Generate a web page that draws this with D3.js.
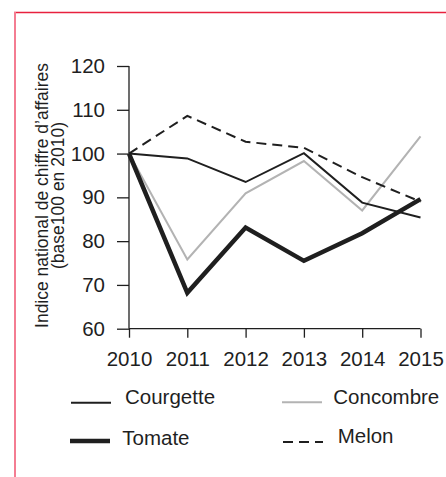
<!DOCTYPE html>
<html><head><meta charset="utf-8">
<script src="https://cdn.jsdelivr.net/npm/d3@7"></script>
<style>html,body{margin:0;padding:0;background:#fff;}svg{display:block;font-family:"Liberation Sans",Arial,sans-serif;}</style>
</head><body>
<script>
const years = [2010, 2011, 2012, 2013, 2014, 2015];
const yTicks = [60, 70, 80, 90, 100, 110, 120];
const courgette = [100, 98.9, 93.5, 100.1, 88.8, 85.4];
const concombre = [100, 75.8, 90.9, 98.3, 87.0, 103.9];
const tomate = [100, 68.2, 83.1, 75.5, 81.8, 89.6];
const melon = [100, 108.6, 102.7, 101.3, 94.6, 89.0];
const seriesNames = ["Courgette", "Concombre", "Tomate", "Melon"];
const yLabel = ["Indice national de chiffre d\u2019affaires", "(base100 en 2010)"];

const W = 446, H = 477;
const svg = d3.select("body").append("svg").attr("width", W).attr("height", H);

// frame
svg.append("line").attr("x1", 14).attr("x2", W).attr("y1", 12.5).attr("y2", 12.5)
  .attr("stroke", "#e8213e").attr("stroke-width", 1.5);
svg.append("line").attr("x1", 15).attr("x2", 15).attr("y1", 12).attr("y2", H)
  .attr("stroke", "#f47d92").attr("stroke-width", 2);

const x = d3.scalePoint().domain(years).range([129, 420.5]);
const y = d3.scaleLinear().domain([60, 120]).range([328.7, 66]);

const ink = "#1f1f1f";
const yAxis = svg.append("g").attr("transform", "translate(129,0)")
  .call(d3.axisLeft(y).tickValues(yTicks).tickSize(12).tickPadding(12).tickSizeOuter(0));
const xAxis = svg.append("g").attr("transform", "translate(0,328.7)")
  .call(d3.axisBottom(x).tickSize(9).tickPadding(14).tickSizeOuter(0));
[yAxis, xAxis].forEach(g => {
  g.select(".domain").attr("stroke", ink).attr("stroke-width", 1.3);
  g.selectAll(".tick line").attr("stroke", ink).attr("stroke-width", 1.3);
  g.selectAll("text").attr("fill", ink).style("font-size", "20.5px")
    .style("font-family", "'Liberation Sans',Arial,sans-serif");
});
xAxis.select(".domain").attr("d", `M${x(2010)},0H${x(2015)}`);
yAxis.select(".domain").attr("d", `M0,${y(120)}V${y(60)}`);

// y label
yLabel.forEach((t, i) => {
  svg.append("text").attr("transform", `translate(${47.5 + i * 16},195.5) rotate(-90)`)
    .attr("text-anchor", "middle").attr("fill", ink).style("font-size", "17.5px").text(t);
});

const styles = {
  Courgette: {data: courgette, color: ink, w: 2, dash: null},
  Concombre: {data: concombre, color: "#b3b3b3", w: 2, dash: null},
  Tomate: {data: tomate, color: ink, w: 4.5, dash: null},
  Melon: {data: melon, color: ink, w: 2, dash: "10,6"}
};
const line = d3.line().x((d, i) => x(years[i])).y(d => y(d));
["Concombre", "Courgette", "Melon", "Tomate"].forEach(n => {
  const s = styles[n];
  svg.append("path").attr("d", line(s.data)).attr("fill", "none")
    .attr("stroke", s.color).attr("stroke-width", s.w)
    .attr("stroke-dasharray", s.dash).attr("stroke-linejoin", "miter");
});

// legend
const legPos = {
  Courgette: {lx: 71, ly: 402.7, tx: 125, ty: 404},
  Concombre: {lx: 282, ly: 402.3, tx: 333.3, ty: 404},
  Tomate: {lx: 70, ly: 441, tx: 122.3, ty: 445},
  Melon: {lx: 283, ly: 442, tx: 337.7, ty: 442.7}
};
seriesNames.forEach(n => {
  const s = styles[n], p = legPos[n];
  svg.append("line").attr("x1", p.lx).attr("x2", p.lx + 40).attr("y1", p.ly).attr("y2", p.ly)
    .attr("stroke", s.color).attr("stroke-width", s.w).attr("stroke-dasharray", s.dash);
  svg.append("text").attr("x", p.tx).attr("y", p.ty).attr("fill", ink)
    .style("font-size", "20.5px").text(n);
});
</script>
</body></html>
